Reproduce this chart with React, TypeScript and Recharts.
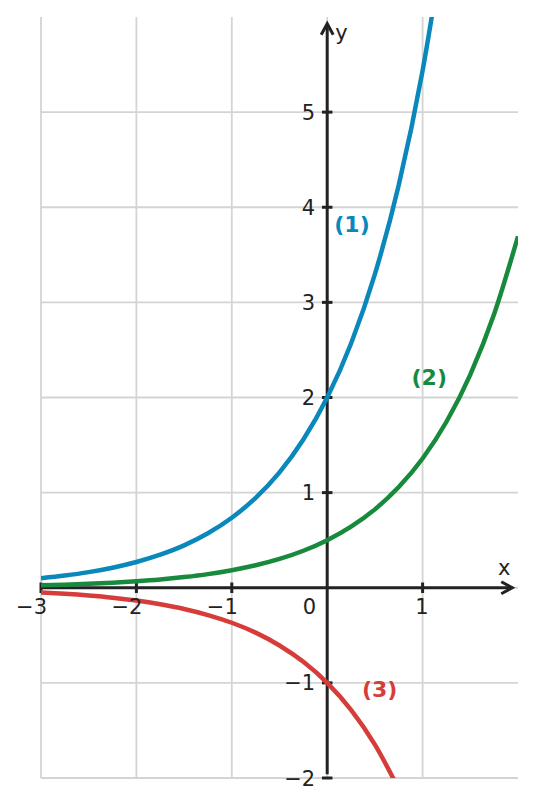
import React from "react";
import {
  LineChart,
  Line,
  XAxis,
  YAxis,
  ReferenceLine,
  ReferenceDot
} from "recharts";

// sample positions along x and the values
const xValues = [
  -3, -2.75, -2.5, -2.25, -2, -1.75, -1.5, -1.25, -1, -0.75, -0.5, -0.25, 0,
  0.25, 0.5, 0.75, 1, 1.25, 1.5, 1.75, 2
];
const curve1 = [
  0.1, 0.128, 0.164, 0.211, 0.271, 0.348, 0.446, 0.573, 0.736, 0.945, 1.213,
  1.558, 2.0, 2.568, 3.297, 4.234, 5.437, 6.981
];
const curve2 = [
  0.025, 0.032, 0.041, 0.053, 0.068, 0.087, 0.112, 0.143, 0.184, 0.236, 0.303,
  0.389, 0.5, 0.642, 0.824, 1.059, 1.359, 1.745, 2.241, 2.877, 3.695
];
const curve3 = [
  -0.05, -0.064, -0.082, -0.105, -0.135, -0.174, -0.223, -0.287, -0.368,
  -0.472, -0.607, -0.779, -1.0, -1.284, -1.649, -2.117
];

const gridX = [-3, -2, -1, 0, 1];
const gridY = [-2, -1, 0, 1, 2, 3, 4, 5];
const xTicks = [-3, -2, -1, 1];
const yTicks = [-2, -1, 1, 2, 3, 4, 5];

const curveLabels = [
  { text: "(1)", x: 0.26, y: 3.82, color: "#0a87bb" },
  { text: "(2)", x: 1.07, y: 2.22, color: "#188a3d" },
  { text: "(3)", x: 0.55, y: -1.06, color: "#d63d3a" }
];

const data = xValues.map((x, i) => ({
  x,
  c1: curve1[i] ?? null,
  c2: curve2[i] ?? null,
  c3: curve3[i] ?? null
}));

const FONT = "DejaVu Sans";
const AXIS = "#222222";
const GRID = "#d4d4d4";
const TICK = 0.055;
const X_END = 1.94;
const Y_END = 5.93;
const FS = 21;
const AXIS_W = 3;
const LINE_W = 4.5;

const fmt = (v: number) => (v < 0 ? "\u2212" + Math.abs(v) : String(v));

export default function App() {
  return (
    <LineChart
      width={519}
      height={790}
      data={data}
      margin={{ top: 9, right: 9, left: 33, bottom: 20 }}
      style={{ fontFamily: FONT }}
    >
      <XAxis
        type="number"
        dataKey="x"
        domain={[-3, 2]}
        allowDataOverflow
        hide
      />
      <YAxis type="number" domain={[-2, 6]} allowDataOverflow hide />

      {gridX.map((v) => (
        <ReferenceLine key={"gx" + v} x={v} stroke={GRID} strokeWidth={1.8} />
      ))}
      {gridY.map((v) => (
        <ReferenceLine key={"gy" + v} y={v} stroke={GRID} strokeWidth={1.8} />
      ))}

      {/* axes */}
      <ReferenceLine
        segment={[
          { x: -3, y: 0 },
          { x: X_END, y: 0 }
        ]}
        stroke={AXIS}
        strokeWidth={AXIS_W}
      />
      <ReferenceLine
        segment={[
          { x: 0, y: -1.96 },
          { x: 0, y: Y_END }
        ]}
        stroke={AXIS}
        strokeWidth={AXIS_W}
      />
      {xTicks.map((v) => (
        <ReferenceLine
          key={"tx" + v}
          segment={[
            { x: v, y: -TICK },
            { x: v, y: TICK }
          ]}
          stroke={AXIS}
          strokeWidth={AXIS_W}
        />
      ))}
      {yTicks.map((v) => (
        <ReferenceLine
          key={"ty" + v}
          segment={[
            { x: -TICK, y: v },
            { x: TICK, y: v }
          ]}
          stroke={AXIS}
          strokeWidth={AXIS_W}
        />
      ))}

      <Line
        dataKey="c1"
        type="monotone"
        stroke="#0a87bb"
        strokeWidth={LINE_W}
        dot={false}
        isAnimationActive={false}
      />
      <Line
        dataKey="c2"
        type="monotone"
        stroke="#188a3d"
        strokeWidth={LINE_W}
        dot={false}
        isAnimationActive={false}
      />
      <Line
        dataKey="c3"
        type="monotone"
        stroke="#d63d3a"
        strokeWidth={LINE_W}
        dot={false}
        isAnimationActive={false}
      />

      {/* arrow heads + axis names */}
      <ReferenceDot
        x={X_END}
        y={0}
        r={0}
        shape={(p: any) => (
          <g>
            <path
              d={`M${p.cx - 11},${p.cy - 6}L${p.cx},${p.cy}L${p.cx - 11},${p.cy + 6}`}
              fill="none"
              stroke={AXIS}
              strokeWidth={AXIS_W}
            />
            <text
              x={p.cx - 8}
              y={p.cy - 13}
              textAnchor="middle"
              fontSize={FS}
              fill={AXIS}
            >
              x
            </text>
          </g>
        )}
      />
      <ReferenceDot
        x={0}
        y={Y_END}
        r={0}
        shape={(p: any) => (
          <g>
            <path
              d={`M${p.cx - 6},${p.cy + 11}L${p.cx},${p.cy}L${p.cx + 6},${p.cy + 11}`}
              fill="none"
              stroke={AXIS}
              strokeWidth={AXIS_W}
            />
            <text x={p.cx + 8} y={p.cy + 16} fontSize={FS} fill={AXIS}>
              y
            </text>
          </g>
        )}
      />

      {/* tick labels */}
      {xTicks.map((v) => (
        <ReferenceDot
          key={"lx" + v}
          x={v}
          y={0}
          r={0}
          shape={(p: any) => (
            <text
              x={p.cx + 6}
              y={p.cy + 26}
              textAnchor="end"
              fontSize={FS}
              fill={AXIS}
            >
              {fmt(v)}
            </text>
          )}
        />
      ))}
      <ReferenceDot
        x={0}
        y={0}
        r={0}
        shape={(p: any) => (
          <text
            x={p.cx - 11}
            y={p.cy + 26}
            textAnchor="end"
            fontSize={FS}
            fill={AXIS}
          >
            0
          </text>
        )}
      />
      {yTicks.map((v) => (
        <ReferenceDot
          key={"ly" + v}
          x={0}
          y={v}
          r={0}
          shape={(p: any) => (
            <text
              x={p.cx - 12}
              y={p.cy + 7.5}
              textAnchor="end"
              fontSize={FS}
              fill={AXIS}
            >
              {fmt(v)}
            </text>
          )}
        />
      ))}

      {curveLabels.map((c) => (
        <ReferenceDot
          key={c.text}
          x={c.x}
          y={c.y}
          r={0}
          shape={(p: any) => (
            <text
              x={p.cx}
              y={p.cy + 8}
              textAnchor="middle"
              fontSize={22}
              fontWeight="bold"
              fill={c.color}
            >
              {c.text}
            </text>
          )}
        />
      ))}
    </LineChart>
  );
}
